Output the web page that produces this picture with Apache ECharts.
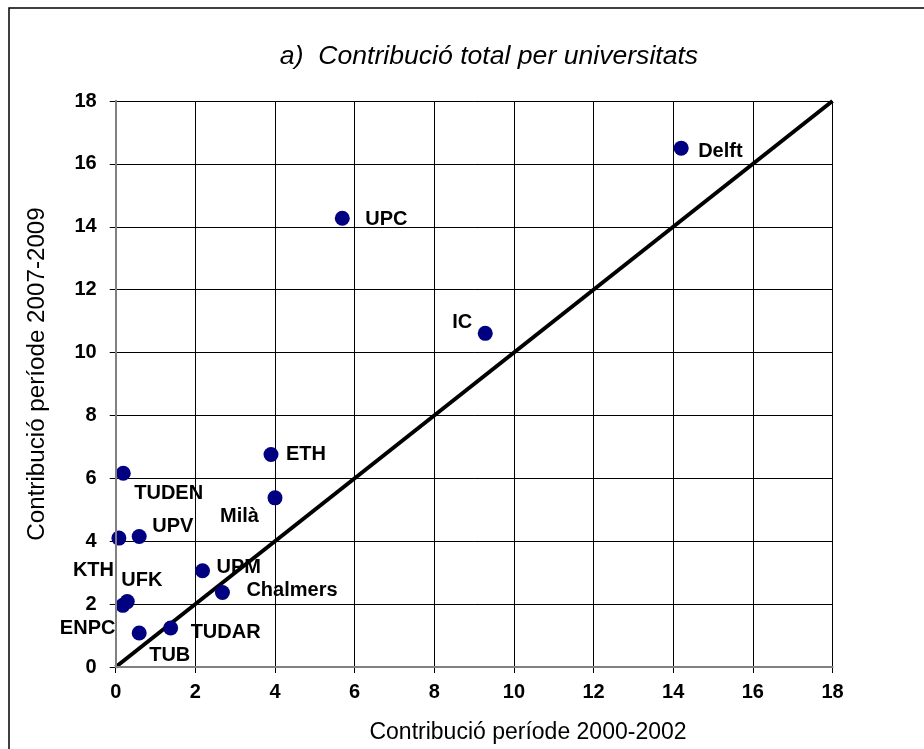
<!DOCTYPE html>
<html>
<head>
<meta charset="utf-8">
<script src="https://cdn.jsdelivr.net/npm/echarts@6/dist/echarts.min.js"></script>
<style>
  html, body { margin: 0; padding: 0; background: #fff; }
  #chart { width: 924px; height: 749px; }
</style>
</head>
<body>
<div id="chart"></div>
<script>
// Contribution per university: period 2000-2002 (x) vs period 2007-2009 (y)
const universitats = ['Delft', 'UPC', 'IC', 'ETH', 'Milà', 'TUDEN', 'UPV', 'KTH', 'UFK', 'UPM', 'Chalmers', 'ENPC', 'TUDAR', 'TUB'];
const periode2000_2002 = [14.2, 5.69, 9.28, 3.9, 4.0, 0.19, 0.59, 0.08, 0.29, 2.18, 2.68, 0.18, 1.38, 0.59];
const periode2007_2009 = [16.5, 14.27, 10.61, 6.76, 5.38, 6.16, 4.15, 4.1, 2.08, 3.06, 2.37, 1.96, 1.24, 1.08];

// Reference line y = x
const diagonal = [[0, 0], [18, 18]];

// Where each name sits relative to its marker (text start, pixels)
const labelPlacement = {
  'Delft': [17, 3], 'UPC': [23, 1], 'IC': [-33, -11], 'ETH': [15, 0],
  'Milà': [-55, 19], 'TUDEN': [11, 20], 'UPV': [13, -10], 'KTH': [-46, 32],
  'UFK': [-6, -21], 'UPM': [14, -3], 'Chalmers': [24, -2], 'ENPC': [-63, 23],
  'TUDAR': [20, 4], 'TUB': [10, 22]
};

const FONT = "'Liberation Sans', Arial, sans-serif";

const points = universitats.map((name, i) => ({
  name: name,
  value: [periode2000_2002[i], periode2007_2009[i]],
  label: { offset: labelPlacement[name] }
}));

const chart = echarts.init(document.getElementById('chart'), null, { renderer: 'canvas' });

const axisCommon = {
  type: 'value', min: 0, max: 18, interval: 2
};

chart.setOption({
  animation: false,
  backgroundColor: '#ffffff',
  title: {
    text: 'a)  Contribució total per universitats',
    left: 484, top: 38, textAlign: 'center',
    textStyle: { fontFamily: FONT, fontSize: 26.6, fontStyle: 'italic', fontWeight: 'normal', color: '#000' }
  },
  graphic: [{
    // outer chart frame
    type: 'rect', z: 100,
    shape: { x: 9, y: 8, width: 1000, height: 1000 },
    style: { fill: 'none', stroke: '#000', lineWidth: 1.5 }
  }, {
    // x axis title
    type: 'text', z: 100,
    x: 528, y: 733,
    style: {
      text: 'Contribució període 2000-2002',
      font: "23px 'Liberation Sans', Arial, sans-serif",
      fill: '#000', align: 'center', verticalAlign: 'middle'
    }
  }, {
    // y axis title
    type: 'text', z: 100,
    x: 37.5, y: 374, rotation: Math.PI / 2,
    style: {
      text: 'Contribució període 2007-2009',
      font: "24.2px 'Liberation Sans', Arial, sans-serif",
      fill: '#000', align: 'center', verticalAlign: 'middle'
    }
  }],
  grid: { left: 115.7, top: 101, right: 91.5, bottom: 82 },
  xAxis: [Object.assign({}, axisCommon, {
    position: 'bottom',
    axisLine: { show: true, onZero: false, lineStyle: { color: '#000', width: 1.5 } },
    axisTick: { show: true, length: 6, lineStyle: { color: '#000', width: 1 } },
    axisLabel: { margin: 15, fontFamily: FONT, fontSize: 20, fontWeight: 'bold', color: '#000' },
    splitLine: { show: true, lineStyle: { color: '#000', width: 1 } }
  }), Object.assign({}, axisCommon, {
    position: 'top', z: 5,
    axisLine: { show: true, lineStyle: { color: '#808080', width: 2 } },
    axisTick: { show: false }, axisLabel: { show: false }, splitLine: { show: false }
  })],
  yAxis: [Object.assign({}, axisCommon, {
    position: 'left',
    axisLine: { show: true, onZero: false, lineStyle: { color: '#000', width: 1.5 } },
    axisTick: { show: true, length: 6, lineStyle: { color: '#000', width: 1 } },
    axisLabel: { margin: 19, fontFamily: FONT, fontSize: 20, fontWeight: 'bold', color: '#000' },
    splitLine: { show: true, lineStyle: { color: '#000', width: 1 } }
  }), Object.assign({}, axisCommon, {
    position: 'right', z: 5,
    axisLine: { show: true, lineStyle: { color: '#808080', width: 2 } },
    axisTick: { show: false }, axisLabel: { show: false }, splitLine: { show: false }
  })],
  series: [{
    type: 'line',
    data: diagonal,
    xAxisIndex: 0, yAxisIndex: 0,
    showSymbol: false, symbol: 'none',
    lineStyle: { color: '#000', width: 4 },
    z: 3, silent: true
  }, {
    type: 'scatter',
    data: points,
    xAxisIndex: 0, yAxisIndex: 0,
    symbol: 'circle', symbolSize: 15,
    itemStyle: { color: '#000080', opacity: 1 },
    z: 4,
    label: {
      show: true, position: 'inside', align: 'left', verticalAlign: 'middle',
      formatter: '{b}',
      fontFamily: FONT, fontSize: 20, fontWeight: 'bold', color: '#000'
    }
  }]
});
</script>
</body>
</html>
